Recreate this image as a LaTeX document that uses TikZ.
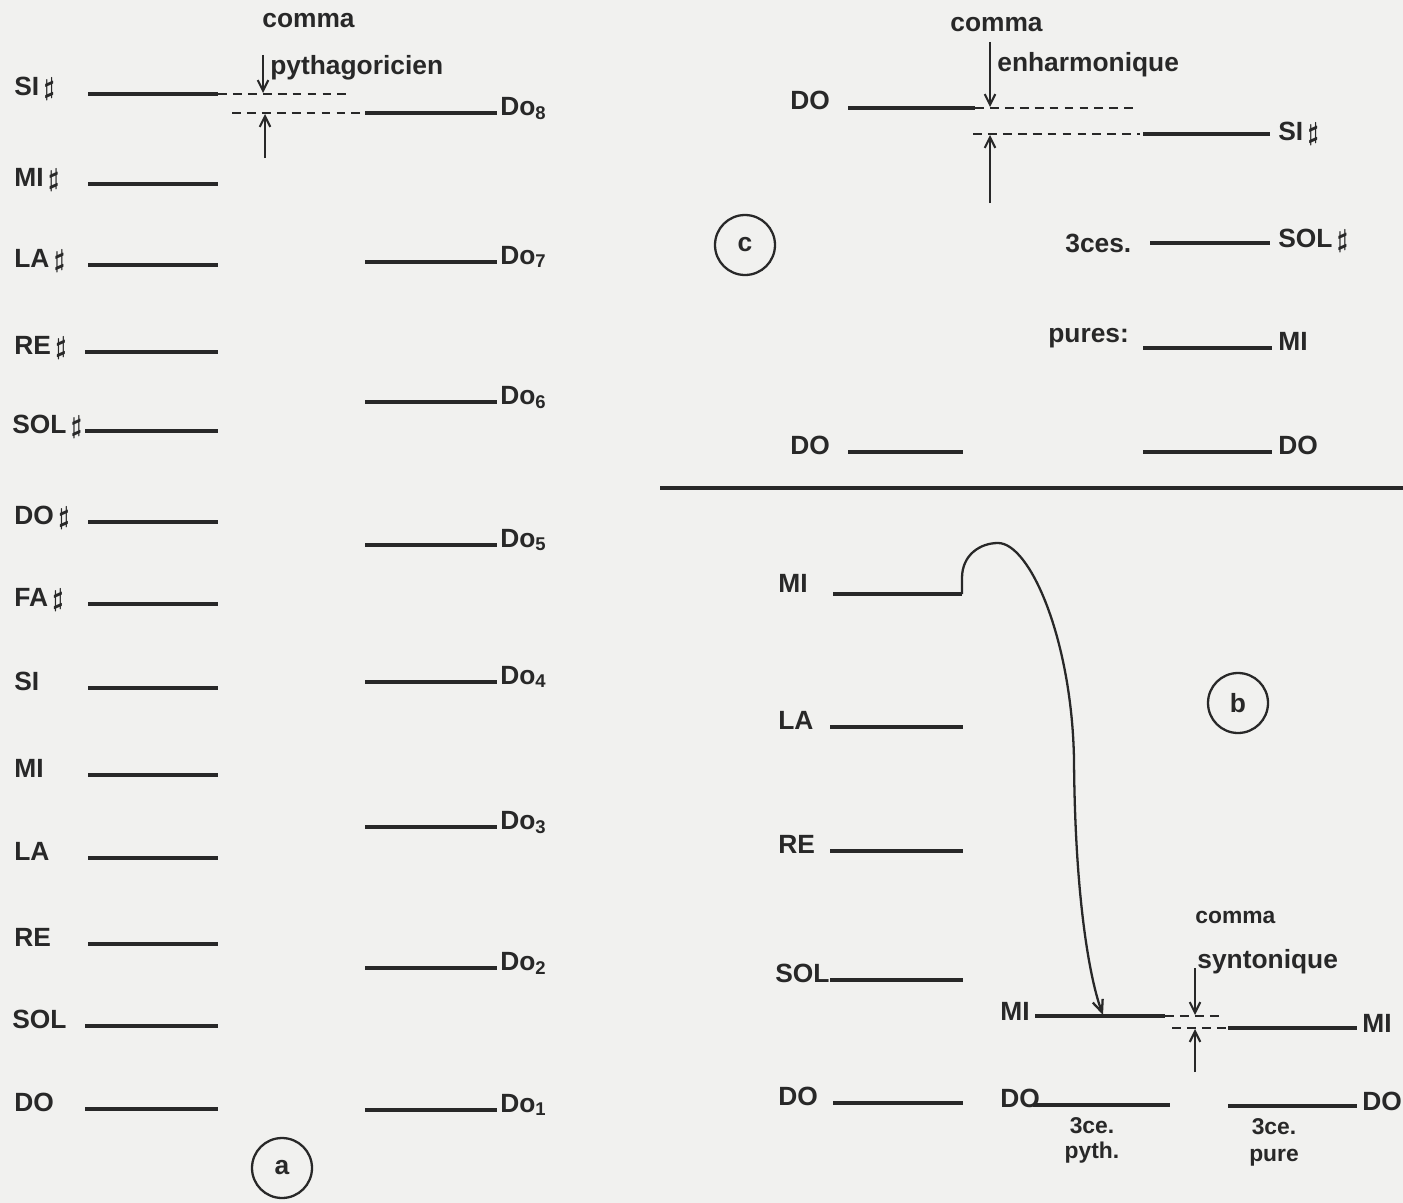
\documentclass[tikz,border=0pt]{standalone}
\usepackage{fontspec}
\setmainfont{Liberation Sans}
\usetikzlibrary{positioning, arrows.meta}
\definecolor{ink}{RGB}{40,40,40}
\definecolor{paper}{RGB}{241,241,239}
\newcommand{\sh}{\,{\boldmath$\sharp$}}
\begin{document}
\begin{tikzpicture}[
    x=0.02cm, y=-0.02cm,
    % Node styles
    note/.style={font=\fontsize{15}{17}\selectfont\bfseries, text=ink, inner sep=0pt, anchor=base west},
    small note/.style={note, font=\fontsize{13}{15}\selectfont\bfseries},
    caption/.style={small note, anchor=base},
    panel/.style={circle, draw=ink, line width=1.3pt, minimum size=1.2cm, font=\fontsize{15}{17}\selectfont\bfseries, text=ink},
    % Line styles
    level/.style={draw=ink, line width=2pt},
    gap/.style={draw=ink, line width=1.4pt, dash pattern=on 5pt off 3.5pt},
    comma/.style={draw=ink, line width=1.2pt, -{Straight Barb[length=6pt, width=6pt]}},
    link/.style={draw=ink, line width=1.3pt, -{Straight Barb[length=7pt, width=6pt]}}
]
\useasboundingbox (0, 0) rectangle (1403, 1203);
\fill[paper] (0, 0) rectangle (1403, 1203);
% Panel a: fifths (left) and octaves (right)
\node[note] (aSIs) at (14, 96) {SI\sh};
\node[note] (aMIs) at (14, 186) {MI\sh};
\node[note] (aLAs) at (14, 267) {LA\sh};
\node[note] (aREs) at (14, 354) {RE\sh};
\node[note] (aSOLs) at (12, 433) {SOL\sh};
\node[note] (aDOs) at (14, 524) {DO\sh};
\node[note] (aFAs) at (14, 606) {FA\sh};
\node[note] (aSI) at (14, 690) {SI};
\node[note] (aMI) at (14, 777) {MI};
\node[note] (aLA) at (14, 860) {LA};
\node[note] (aRE) at (14, 946) {RE};
\node[note] (aSOL) at (12, 1028) {SOL};
\node[note] (aDO) at (14, 1111) {DO};
\draw[level] (88, 94) -- (218, 94);
\draw[level] (88, 184) -- (218, 184);
\draw[level] (88, 265) -- (218, 265);
\draw[level] (85, 352) -- (218, 352);
\draw[level] (85, 431) -- (218, 431);
\draw[level] (88, 522) -- (218, 522);
\draw[level] (88, 604) -- (218, 604);
\draw[level] (88, 688) -- (218, 688);
\draw[level] (88, 775) -- (218, 775);
\draw[level] (88, 858) -- (218, 858);
\draw[level] (88, 944) -- (218, 944);
\draw[level] (85, 1026) -- (218, 1026);
\draw[level] (85, 1109) -- (218, 1109);
% Octaves of DO
\node[note] (do8) at (500, 115) {Do\textsubscript{8}};
\node[note] (do7) at (500, 264) {Do\textsubscript{7}};
\node[note] (do6) at (500, 404) {Do\textsubscript{6}};
\node[note] (do5) at (500, 547) {Do\textsubscript{5}};
\node[note] (do4) at (500, 684) {Do\textsubscript{4}};
\node[note] (do3) at (500, 829) {Do\textsubscript{3}};
\node[note] (do2) at (500, 970) {Do\textsubscript{2}};
\node[note] (do1) at (500, 1112) {Do\textsubscript{1}};
\draw[level] (365, 113) -- (497, 113);
\draw[level] (365, 262) -- (497, 262);
\draw[level] (365, 402) -- (497, 402);
\draw[level] (365, 545) -- (497, 545);
\draw[level] (365, 682) -- (497, 682);
\draw[level] (365, 827) -- (497, 827);
\draw[level] (365, 968) -- (497, 968);
\draw[level] (365, 1110) -- (497, 1110);
% Pythagorean comma
\draw[gap] (218, 94) -- (350, 94);
\draw[gap] (232, 113) -- (365, 113);
\node[note] (pyCom) at (262, 28) {comma};
\node[note] (pyName) at (270, 75) {pythagoricien};
\coordinate (pyTop) at (263, 55);
\coordinate (pyHigh) at (263, 93);
\coordinate (pyBot) at (265, 158);
\coordinate (pyLow) at (265, 114);
\draw[comma] (pyTop) -- (pyHigh);
\draw[comma] (pyBot) -- (pyLow);
\node[panel] (pa) at (282, 1168) {a};
% Panel c: enharmonic comma
\node[note] (enCom) at (950, 32) {comma};
\node[note] (enName) at (997, 72) {enharmonique};
\node[note] (cDO) at (790, 110) {DO};
\draw[level] (848, 108) -- (975, 108);
\draw[gap] (975, 108) -- (1133, 108);
\draw[gap] (973, 134) -- (1140, 134);
\draw[level] (1143, 134) -- (1270, 134);
\node[note] (cSIs) at (1278, 140) {SI\sh};
\coordinate (enTop) at (990, 42);
\coordinate (enHigh) at (990, 107);
\coordinate (enBot) at (990, 203);
\coordinate (enLow) at (990, 135);
\draw[comma] (enTop) -- (enHigh);
\draw[comma] (enBot) -- (enLow);
\node[note] (ces) at (1065, 252) {3ces.};
\draw[level] (1150, 243) -- (1270, 243);
\node[note] (cSOLs) at (1278, 247) {SOL\sh};
\node[note] (pures) at (1048, 342) {pures:};
\draw[level] (1143, 348) -- (1272, 348);
\node[note] (cMI) at (1278, 350) {MI};
\node[note] (cDOlow) at (790, 454) {DO};
\draw[level] (848, 452) -- (963, 452);
\draw[level] (1143, 452) -- (1272, 452);
\node[note] (cDOhigh) at (1278, 454) {DO};
\node[panel] (pc) at (745, 245) {c};
% Separator
\draw[level] (660, 488) -- (1403, 488);
% Panel b: syntonic comma
\node[note] (bMI) at (778, 592) {MI};
\node[note] (bLA) at (778, 729) {LA};
\node[note] (bRE) at (778, 853) {RE};
\node[note] (bSOL) at (775, 982) {SOL};
\node[note] (bDO) at (778, 1105) {DO};
\draw[level] (833, 594) -- (962, 594);
\draw[level] (830, 727) -- (963, 727);
\draw[level] (830, 851) -- (963, 851);
\draw[level] (830, 980) -- (963, 980);
\draw[level] (833, 1103) -- (963, 1103);
\node[note] (bMIpy) at (1000, 1020) {MI};
\draw[level] (1035, 1016) -- (1165, 1016);
\draw[gap] (1165, 1016) -- (1222, 1016);
\draw[gap] (1172, 1028) -- (1226, 1028);
\draw[level] (1228, 1028) -- (1357, 1028);
\node[note] (bMIpu) at (1362, 1032) {MI};
\node[note] (bDOpy) at (1000, 1107) {DO};
\draw[level] (1033, 1105) -- (1170, 1105);
\draw[level] (1228, 1106) -- (1357, 1106);
\node[note] (bDOpu) at (1362, 1110) {DO};
\node[caption] (thPy) at (1092, 1133) {3ce.};
\node[caption] (thPyName) at (1092, 1158) {pyth.};
\node[caption] (thPu) at (1274, 1134) {3ce.};
\node[caption] (thPuName) at (1274, 1161) {pure};
\node[small note] (syCom) at (1195, 923) {comma};
\node[note] (syName) at (1197, 968) {syntonique};
\coordinate (syTop) at (1195, 968);
\coordinate (syHigh) at (1195, 1015);
\coordinate (syBot) at (1195, 1072);
\coordinate (syLow) at (1195, 1029);
\draw[comma] (syTop) -- (syHigh);
\draw[comma] (syBot) -- (syLow);
% Four fifths lead to the third
\coordinate (miEnd) at (962, 594);
\coordinate (miThird) at (1103, 1015);
\draw[link] (miEnd) -- (962, 578) .. controls (962, 555) and (980, 543) .. (998, 543)
    .. controls (1030, 543) and (1072, 640) .. (1074, 760)
    .. controls (1075, 900) and (1090, 980) .. (miThird);
\node[panel] (pb) at (1238, 703) {b};
\end{tikzpicture}
\end{document}
